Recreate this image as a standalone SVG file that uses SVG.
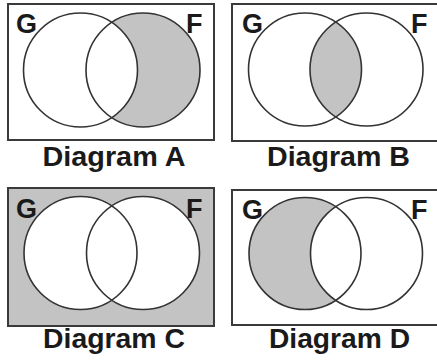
<svg xmlns="http://www.w3.org/2000/svg" width="437" height="363" viewBox="0 0 437 363">
<style>
.frame{fill:#fff;stroke:#3a3a3a;stroke-width:2}
.out{fill:none;stroke:#333;stroke-width:1.6}
.shade{fill:#c3c3c3}
.white{fill:#fff}
.lbl{font-family:"Liberation Sans",Arial,sans-serif;font-weight:bold;font-size:27px;fill:#1a1a1a}
.cap{font-family:"Liberation Sans",Arial,sans-serif;font-weight:bold;font-size:28px;fill:#1a1a1a;text-anchor:middle}
</style>
<defs>
<clipPath id="clipGB"><circle cx="305" cy="69.5" r="56.5"/></clipPath>
</defs>
<rect width="437" height="363" fill="#fff"/>
<g id="diagramA">
<rect class="frame" x="8" y="4" width="206" height="136"/>
<circle class="shade" cx="143" cy="70" r="57"/>
<circle class="white" cx="80.5" cy="70" r="57"/>
<circle class="out" cx="80.5" cy="70" r="57"/>
<circle class="out" cx="143" cy="70" r="57"/>
<text class="lbl" x="16" y="33">G</text>
<text class="lbl" x="186" y="33">F</text>
<text class="cap" x="114" y="166" textLength="143" lengthAdjust="spacingAndGlyphs">Diagram A</text>
</g>
<g id="diagramB">
<rect class="frame" x="232" y="4" width="210" height="137"/>
<circle class="shade" cx="366.5" cy="69.5" r="56.5" clip-path="url(#clipGB)"/>
<circle class="out" cx="305" cy="69.5" r="56.5"/>
<circle class="out" cx="366.5" cy="69.5" r="56.5"/>
<text class="lbl" x="242" y="33">G</text>
<text class="lbl" x="411" y="33">F</text>
<text class="cap" x="338.5" y="166" textLength="143" lengthAdjust="spacingAndGlyphs">Diagram B</text>
</g>
<g id="diagramC">
<rect class="frame" x="8" y="188" width="206" height="138" style="fill:#c3c3c3"/>
<circle class="white" cx="80.5" cy="253" r="56.5"/>
<circle class="white" cx="143" cy="253" r="56.5"/>
<circle class="out" cx="80.5" cy="253" r="56.5"/>
<circle class="out" cx="143" cy="253" r="56.5"/>
<text class="lbl" x="16" y="218">G</text>
<text class="lbl" x="186" y="218">F</text>
<text class="cap" x="114" y="348" textLength="142" lengthAdjust="spacingAndGlyphs">Diagram C</text>
</g>
<g id="diagramD">
<rect class="frame" x="232" y="190" width="210" height="135"/>
<circle class="shade" cx="305" cy="253.5" r="56"/>
<circle class="white" cx="366.5" cy="253.5" r="56"/>
<circle class="out" cx="305" cy="253.5" r="56"/>
<circle class="out" cx="366.5" cy="253.5" r="56"/>
<text class="lbl" x="242" y="219">G</text>
<text class="lbl" x="411" y="219">F</text>
<text class="cap" x="339.5" y="348" textLength="141" lengthAdjust="spacingAndGlyphs">Diagram D</text>
</g>
</svg>
